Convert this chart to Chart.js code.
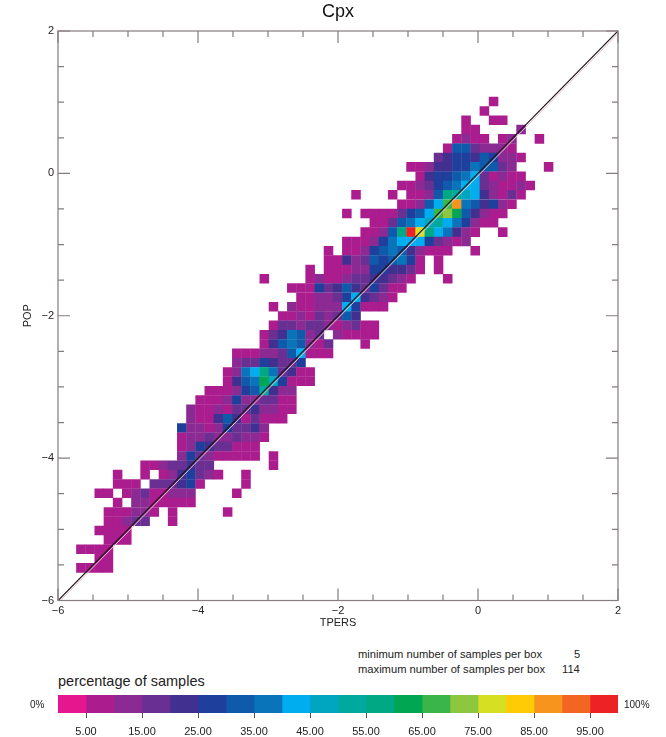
<!DOCTYPE html>
<html>
<head>
<meta charset="utf-8">
<script src="https://cdn.jsdelivr.net/npm/chart.js@4"></script>
<style>
html,body{margin:0;padding:0;background:#fff;width:666px;height:737px;overflow:hidden;font-family:"Liberation Sans",Arial,sans-serif;color:#222}
canvas{position:absolute;left:0}
.t{position:absolute;white-space:pre;line-height:1}
</style>
</head>
<body>
<canvas id="main" width="666" height="630" style="top:0"></canvas>
<canvas id="bar" width="666" height="47" style="top:690px"></canvas>
<div class="t" style="left:358px;top:649px;font-size:11.2px">minimum number of samples per box</div>
<div class="t" style="left:358px;top:664px;font-size:11.2px">maximum number of samples per box</div>
<div class="t" style="left:574px;top:649px;font-size:11.2px">5</div>
<div class="t" style="left:562px;top:664px;font-size:11.2px">114</div>
<div class="t" style="left:58px;top:674px;font-size:14.5px">percentage of samples</div>
<div class="t" style="left:30px;top:700px;font-size:10px">0%</div>
<div class="t" style="left:624px;top:700px;font-size:10px">100%</div>
<script>
const chartTitle = "Cpx";
const xAxisTitle = "TPERS";
const yAxisTitle = "POP";
const axisMin = -6;
const axisMax = 2;
const binSize = 0.131;

// percentage bands of the colour bar, 0-5 ... 95-100
const bandColors = ["#e6178e","#ab1c8e","#8a2a92","#6a2f92","#41308f","#1f3f9c","#0f5aab","#0a74bb",
  "#00aeef","#00a5c0","#00a99d","#00a884","#00a651","#39b54a","#8dc63f","#d7df23","#ffcb05","#f7941d","#f26522","#ed2224"];
const barTicks = [5,15,25,35,45,55,65,75,85,95];

// heat map: row bin, first column bin, percentage per column bin (0 = no samples)
const rowBins = [53,52,51,50,49,48,47,46,45,44,43,42,41,40,39,38,37,36,35,34,33,32,31,30,29,28,27,26,25,24,23,22,21,20,19,18,17,16,15,14,13,12,11,10,9,8,7,6,5,4,3];
const rowStarts = [47,46,44,44,43,42,41,38,39,37,32,37,31,34,33,31,29,29,27,22,25,26,23,24,23,22,22,19,19,18,18,16,15,14,14,13,13,13,13,9,6,6,4,6,5,5,4,5,2,4,2];
const rowValues = [
[7],
[7],
[7,0,0,7,7],
[7,7,0,0,0,0,12],
[7,12,7,7,0,7,12,0,0,7],
[7,32,32,17,12,12,12,7],
[17,22,27,27,22,32,27,12,12,7],
[7,7,12,22,22,27,27,37,32,32,17,12,0,0,0,7],
[7,22,27,27,32,37,42,17,7,12,7,7],
[7,7,12,17,27,32,37,42,42,17,12,7,7,12,7],
[7,0,0,0,7,0,7,7,12,32,57,52,47,42,22,12,7,17,7],
[7,7,12,32,42,67,87,37,32,22,27,12,7],
[7,0,7,7,7,7,17,27,32,42,67,72,62,32,22,12,7,7],
[7,7,17,32,37,42,47,52,42,37,27,12,7,7],
[7,7,12,32,57,97,77,57,42,37,22,12,7,0,0,7],
[7,7,7,12,27,37,42,42,42,27,17,12,7,12],
[7,0,7,7,12,27,32,37,32,22,12,7,7,7,0,0,7],
[7,7,22,12,17,32,27,32,37,27,7,0,7],
[7,0,7,7,7,12,12,27,27,22,22,17,7,0,7],
[7,0,0,0,0,7,12,7,7,12,17,17,22,22,17,12,7,0,0,0,7],
[7,7,7,27,17,22,32,22,17,27,17,7,7],
[7,7,12,12,17,27,42,22,17,12,7],
[7,0,12,7,7,12,12,12,42,27,7,7,7],
[7,7,12,7,17,12,17,32,22],
[7,17,17,12,17,17,12,7,12,17,7,7],
[7,17,22,37,32,12,17,0,12,7,7,7,7],
[7,22,32,37,32,12,7,17,0,0,0,7],
[7,7,7,12,12,17,32,42,7,7,7],
[12,17,17,27,22,17,17,27],
[7,12,37,42,57,37,17,22,7,7],
[7,22,32,37,62,47,27,7,7,7],
[7,7,7,12,27,32,52,22,12,12],
[7,7,7,12,27,12,12,17,17,7,7],
[12,7,7,12,7,17,17,22,12,12,7,7],
[12,7,7,22,32,22,7,17,7,7,7],
[27,12,12,7,12,27,17,17,22,12],
[7,12,12,17,12,12,17,12,12,7],
[7,12,27,22,17,17,7,7,7],
[12,27,17,12,7,7,7,7,7,0,7],
[7,7,12,17,17,22,17,17,0,0,0,0,0,0,7],
[7,0,0,7,0,7,12,22,27,17,12,7,0,0,7],
[7,7,7,0,17,17,17,22,27,7,0,0,0,0,7],
[7,7,0,7,12,17,7,7,12,12,12,0,0,0,0,7],
[7,0,12,12,7,7,7,7,7],
[7,7,7,12,12,7,0,7,0,0,0,0,0,7],
[7,7,12,17,17,0,0,7],
[7,7,7,7],
[7,7,7],
[7,7,7,7],
[7,7],
[7,7,7,7]
];

const cells = [];
rowValues.forEach((vals, i) => vals.forEach((v, j) => {
  if (v > 0) cells.push({
    x: axisMin + (rowStarts[i] + j + 0.5) * binSize,
    y: axisMin + (rowBins[i] + 0.5) * binSize,
    v
  });
}));

const textColor = "#222";
const family = '"Liberation Sans", Arial, sans-serif';

const frame = {
  id: "frame",
  afterDatasetsDraw(chart) {
    const {ctx, chartArea: a, scales: {x, y}} = chart;
    ctx.save();
    ctx.strokeStyle = "#857d7d";
    ctx.lineWidth = 1.2;
    ctx.strokeRect(a.left, a.top, a.right - a.left, a.bottom - a.top);
    ctx.beginPath();
    x.ticks.forEach(t => {
      const p = x.getPixelForValue(t.value), len = t.value % 2 === 0 ? 12 : 6;
      ctx.moveTo(p, a.bottom); ctx.lineTo(p, a.bottom - len);
      ctx.moveTo(p, a.top); ctx.lineTo(p, a.top + len);
    });
    y.ticks.forEach(t => {
      const p = y.getPixelForValue(t.value), len = t.value % 2 === 0 ? 12 : 6;
      ctx.moveTo(a.left, p); ctx.lineTo(a.left + len, p);
      ctx.moveTo(a.right, p); ctx.lineTo(a.right - len, p);
    });
    ctx.stroke();
    ctx.restore();
  }
};

const axisLabel = v => (v % 2 === 0 ? String(v).replace("-", "\u2212") : "");

new Chart(document.getElementById("main"), {
  data: {
    datasets: [
      {type: "line", data: [{x: axisMin, y: axisMin}, {x: axisMax, y: axisMax}], borderColor: "#1c1416", borderWidth: 1.2, pointRadius: 0, order: 0},
      {type: "line", data: [{x: axisMin, y: axisMin - 0.035}, {x: axisMax, y: axisMax - 0.035}], borderColor: "#e2c3cd", borderWidth: 1, pointRadius: 0, order: 1},
      {type: "scatter", data: cells, pointStyle: "rect", pointRadius: 6.75, pointBorderWidth: 0, borderWidth: 0,
       backgroundColor: cells.map(c => bandColors[Math.floor(c.v / 5)]), order: 2}
    ]
  },
  options: {
    responsive: false,
    animation: false,
    events: [],
    layout: {padding: {left: 21, right: 48, top: 0, bottom: 0}},
    plugins: {
      legend: {display: false},
      tooltip: {enabled: false},
      title: {display: true, text: chartTitle, color: "#111", font: {family, size: 18, weight: "normal"}, padding: {top: 1, bottom: 8.4}, fullSize: false}
    },
    scales: {
      x: {
        type: "linear", min: axisMin, max: axisMax,
        grid: {display: false, drawTicks: false}, border: {display: false},
        ticks: {stepSize: 0.5, autoSkip: false, maxRotation: 0, padding: 4, color: textColor, font: {family, size: 11}, callback: axisLabel},
        title: {display: true, text: xAxisTitle, color: textColor, font: {family, size: 11}, padding: 0},
        afterFit(s) { s.height = 29.5; }
      },
      y: {
        type: "linear", min: axisMin, max: axisMax,
        grid: {display: false, drawTicks: false}, border: {display: false},
        ticks: {stepSize: 0.5, autoSkip: false, padding: 4, color: textColor, font: {family, size: 11}, callback: axisLabel},
        title: {display: true, text: yAxisTitle, color: textColor, font: {family, size: 11}, padding: 0},
        afterFit(s) { s.width = 37; }
      }
    }
  },
  plugins: [frame]
});

new Chart(document.getElementById("bar"), {
  type: "bar",
  data: {
    labels: [""],
    datasets: bandColors.map(c => ({data: [5], backgroundColor: c, borderWidth: 0, barPercentage: 1, categoryPercentage: 1}))
  },
  options: {
    responsive: false,
    animation: false,
    events: [],
    indexAxis: "y",
    layout: {padding: {left: 0, right: 48, top: 5, bottom: 0}},
    plugins: {legend: {display: false}, tooltip: {enabled: false}},
    scales: {
      x: {
        type: "linear", stacked: true, min: 0, max: 100,
        border: {display: false},
        grid: {drawOnChartArea: false, drawTicks: true, tickLength: 5, tickColor: "#555"},
        afterBuildTicks(s) { s.ticks = barTicks.map(v => ({value: v})); },
        ticks: {autoSkip: false, maxRotation: 0, padding: 7, color: textColor, font: {family, size: 11}, callback: v => v.toFixed(2)},
        afterFit(s) { s.height = 24; }
      },
      y: {
        stacked: true,
        border: {display: false},
        grid: {display: false},
        ticks: {display: false},
        afterFit(s) { s.width = 58; }
      }
    }
  }
});
</script>
</body>
</html>
